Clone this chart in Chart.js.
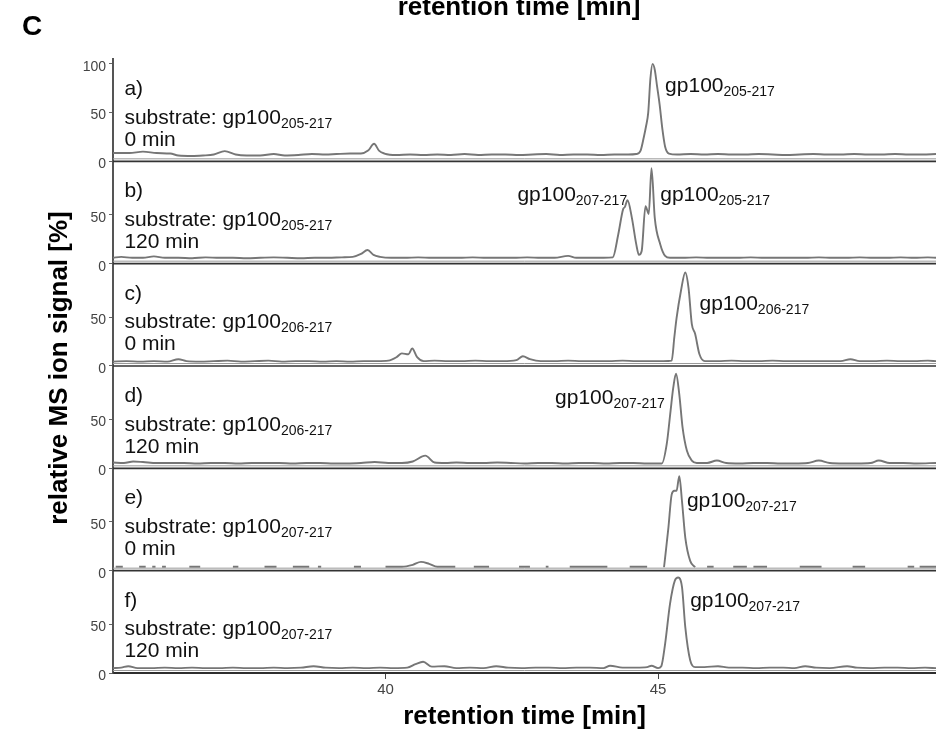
<!DOCTYPE html>
<html>
<head>
<meta charset="utf-8">
<script src="https://cdn.jsdelivr.net/npm/chart.js@4.4.1/dist/chart.umd.min.js"></script>
<style>
  html, body { margin: 0; padding: 0; background: #fff; }
</style>
</head>
<body>
<canvas id="msChart" width="936" height="732"></canvas>
<script>
const FONT = '"Liberation Sans", Arial, sans-serif';

// axes
const timeRange = [35, 50.1];
const xTicks = [40, 45];
const topPanelTicks = [0, 50, 100];
const panelTicks = [0, 50];

// panels a) .. f)
const panelIds = ['yA', 'yB', 'yC', 'yD', 'yE', 'yF'];
const panelLetters = ['a)', 'b)', 'c)', 'd)', 'e)', 'f)'];
const substrates = ['205-217', '205-217', '206-217', '206-217', '207-217', '207-217'];
const incubation = ['0 min', '120 min', '0 min', '120 min', '0 min', '120 min'];

// traces: [retention time, relative signal %]  (null = no signal recorded)
const traceA = [[35.0,8.5],[35.3,8.5],[35.55,10],[35.8,8.5],[36.05,8],[36.2,6],[36.45,5.5],[36.65,6],[36.85,7],[37.05,10.5],[37.25,7],[37.45,6],[37.7,6],[37.95,7.5],[38.15,6],[38.4,6.5],[38.65,7.5],[38.9,7],[39.1,7.5],[39.35,8],[39.55,8],[39.68,11],[39.79,18],[39.88,11],[39.98,8],[40.2,6.5],[40.45,7],[40.7,6.5],[40.95,7],[41.2,6.5],[41.45,7.5],[41.7,6.5],[41.95,7],[42.2,7],[42.45,6.5],[42.7,7],[42.95,7.5],[43.2,6.5],[43.45,7],[43.7,7],[43.95,6.5],[44.2,7],[44.45,7],[44.6,7.5],
  [44.68,11],[44.74,25],[44.78,36],[44.82,50],[44.86,85],[44.9,100],[44.94,94],[44.98,78],[45.03,58],[45.08,33],[45.13,15],[45.2,8],
  [45.35,7],[45.6,7.5],[45.85,7],[46.1,7.5],[46.35,7],[46.6,7],[46.85,7.5],[47.1,7],[47.35,6.5],[47.6,7],[47.85,7.5],[48.1,7],[48.35,7],[48.6,7.5],[48.85,7],[49.1,7],[49.35,7.5],[49.6,7],[49.85,7],[50.1,7.5]];

const traceB = [[35.0,6],[35.15,7],[35.35,6],[35.55,6],[35.75,7.5],[35.95,6],[36.2,6],[36.45,5.5],[36.7,6.5],[36.95,6],[37.2,6],[37.45,5.5],[37.7,6],[37.95,6.5],[38.2,6],[38.45,5.5],[38.7,6],[38.95,6],[39.2,6.5],[39.4,7],[39.55,10],[39.67,14],[39.78,9],[39.9,7],[40.1,6],[40.35,6],[40.6,6.5],[40.85,6],[41.1,6],[41.35,6],[41.6,6.5],[41.85,6],[42.1,6],[42.35,6],[42.6,6.5],[42.85,6],[43.1,6],[43.35,8],[43.5,6],[43.75,6],[44.0,6],[44.17,6.5],
  [44.27,30],[44.36,56],[44.39,58],[44.44,65],[44.52,47],[44.6,20],[44.65,9],[44.7,13],[44.77,59],[44.83,51],[44.88,98],[44.94,47],[45.04,20],[45.13,8],[45.22,6],
  [45.45,6],[45.7,6.5],[45.95,6],[46.2,6],[46.45,6],[46.7,6.5],[46.95,6],[47.2,6],[47.45,6],[47.7,6],[47.95,6.5],[48.2,6],[48.45,6],[48.7,6.5],[48.95,6],[49.2,6],[49.45,6.5],[49.7,6],[49.95,6.5],[50.1,6]];

const traceC = [[35.0,4.5],[35.25,5],[35.5,4.5],[35.75,5],[36.0,4.5],[36.2,7],[36.35,5],[36.6,4.5],[36.85,5],[37.1,5.5],[37.35,4.5],[37.6,5],[37.85,5.5],[38.1,4.5],[38.35,5],[38.6,5],[38.85,4.5],[39.1,5],[39.35,4.5],[39.6,5],[39.85,5],[40.05,5.5],[40.2,9],[40.3,13],[40.42,12],[40.49,18],[40.58,9],[40.7,5],[40.9,5.5],[41.15,5],[41.4,5],[41.65,5.5],[41.9,5],[42.15,5],[42.4,6],[42.52,10],[42.65,7],[42.85,5],[43.1,5],[43.35,5.5],[43.6,5],[43.85,5],[44.1,5],[44.35,5.5],[44.6,5],[44.85,5],[45.1,5],[45.25,5.5],
  [45.3,30],[45.34,49],[45.42,77],[45.5,96],[45.56,80],[45.62,43],[45.68,33],[45.76,12],[45.86,5],
  [46.1,5],[46.35,5.5],[46.6,5],[46.85,5],[47.1,5.5],[47.35,5],[47.6,5],[47.85,5],[48.1,5],[48.35,5],[48.53,7],[48.7,5],[48.95,5],[49.2,5.5],[49.45,5],[49.7,5],[49.95,5.5],[50.1,5]];

const traceD = [[35.0,6],[35.2,5.5],[35.37,7],[35.55,6.5],[35.8,5.5],[36.05,5.5],[36.3,5.5],[36.55,5],[36.8,5.5],[37.05,5.5],[37.3,5],[37.55,5.5],[37.8,5.5],[38.05,5.5],[38.3,5],[38.55,5.5],[38.8,5.5],[39.05,5],[39.3,5],[39.55,5.5],[39.8,6.5],[40.05,5.5],[40.3,5.5],[40.5,7],[40.73,13],[40.9,6],[41.1,5.5],[41.3,6],[41.55,5.5],[41.8,5.5],[42.05,6],[42.3,5.5],[42.55,5],[42.8,5.5],[43.05,5.5],[43.3,5],[43.55,5.5],[43.8,5.5],[44.05,5],[44.3,5.5],[44.55,5.5],[44.8,5],[45.07,5],
  [45.16,25],[45.23,59],[45.28,83],[45.33,97],[45.39,76],[45.45,42],[45.53,18],[45.62,8],[45.71,5.5],
  [45.9,5.5],[46.08,8],[46.25,5.5],[46.5,5],[46.75,5.5],[47.0,5.5],[47.25,5],[47.5,5],[47.75,5.5],[47.95,8],[48.15,5.5],[48.4,5],[48.65,5],[48.9,5.5],[49.05,8],[49.25,5.5],[49.5,5.5],[49.75,5],[50.1,5.5]];

const traceE = [[35.05,4],[35.18,4],[35.3,null],[35.48,4],[35.6,4],[35.65,null],[35.72,4],[35.78,4],[35.83,null],[35.9,4],[35.97,4],[36.0,null],[36.4,4],[36.6,4],[36.65,null],[37.2,4],[37.3,4],[37.35,null],[37.78,4],[38.0,4],[38.05,null],[38.3,4],[38.6,4],[38.65,null],[38.76,4],[38.82,4],[38.85,null],[39.42,4],[39.55,4],[39.6,null],
  [40.0,4],[40.3,4],[40.5,6],[40.65,9],[40.8,7],[40.95,4],[41.28,4],[41.3,null],[41.62,4],[41.9,4],[41.95,null],[42.45,4],[42.65,4],[42.7,null],[42.94,4],[42.99,4],[43.02,null],[43.38,4],[44.07,4],[44.1,null],[44.48,4],[44.8,4],[44.85,null],
  [45.11,3.5],[45.19,44],[45.25,78],[45.3,82],[45.34,82],[45.39,97],[45.44,71],[45.5,34],[45.59,10],[45.68,3.5],[45.72,null],
  [45.9,4],[46.02,4],[46.05,null],[46.38,4],[46.63,4],[46.68,null],[46.75,4],[47.0,4],[47.05,null],[47.6,4],[48.0,4],[48.05,null],[48.57,4],[48.8,4],[48.85,null],[49.58,4],[49.7,4],[49.75,null],[49.8,4],[50.1,4]];

const traceF = [[35.0,5],[35.15,5.5],[35.28,7],[35.45,5],[35.7,5],[35.95,5.5],[36.2,5],[36.45,5.5],[36.7,5],[36.95,5],[37.2,5.5],[37.45,5],[37.7,5],[37.95,5.5],[38.2,5],[38.45,5.5],[38.68,7],[38.9,5.5],[39.15,5],[39.4,5.5],[39.65,5],[39.9,5.5],[40.15,5],[40.4,5.5],[40.55,9],[40.69,11.5],[40.85,6.5],[41.08,7],[41.3,5],[41.55,5.5],[41.8,5],[42.03,7],[42.25,5.5],[42.5,5],[42.75,5.5],[43.0,5.5],[43.25,5],[43.5,5.5],[43.75,5.5],[44.0,5],[44.12,7.5],[44.35,5.5],[44.6,5.5],[44.8,6],[44.88,7.5],[45.0,5],
  [45.06,7],[45.13,30],[45.22,71],[45.31,95],[45.37,98],[45.44,88],[45.5,47],[45.59,13],[45.68,6],
  [45.85,6],[46.1,7],[46.3,5.5],[46.55,5.5],[46.8,5],[47.05,5.5],[47.3,5.5],[47.5,5],[47.7,7],[47.9,5.5],[48.15,5],[48.47,7],[48.65,5.5],[48.9,5],[49.15,5.5],[49.4,5.5],[49.65,5],[49.9,5.5],[50.1,5]];

const traces = [traceA, traceB, traceC, traceD, traceE, traceF];

// peak annotations: panel index, time, signal level of label baseline, subscript
const peakLabels = [
  { panel: 0, t: 45.13, v: 71, sub: '205-217' },
  { panel: 1, t: 42.42, v: 64, sub: '207-217' },
  { panel: 1, t: 45.04, v: 64, sub: '205-217' },
  { panel: 2, t: 45.76, v: 57, sub: '206-217' },
  { panel: 3, t: 43.11, v: 66, sub: '207-217' },
  { panel: 4, t: 45.53, v: 65, sub: '207-217' },
  { panel: 5, t: 45.59, v: 68, sub: '207-217' }
];

function drawWithSub(ctx, x, y, main, sub) {
  ctx.font = '21px ' + FONT;
  ctx.fillText(main, x, y);
  const w = ctx.measureText(main).width;
  ctx.font = '14px ' + FONT;
  ctx.fillText(sub, x + w, y + 4);
}

const panelDecor = {
  id: 'panelDecor',
  afterDatasetsDraw(chart) {
    const ctx = chart.ctx;
    const area = chart.chartArea;
    const xs = chart.scales.x;
    ctx.save();
    // double separator lines under every panel
    panelIds.forEach(id => {
      const y0 = chart.scales[id].getPixelForValue(0);
      ctx.beginPath();
      ctx.strokeStyle = '#9a9a9a';
      ctx.lineWidth = 1;
      ctx.moveTo(area.left, y0 - 2.5);
      ctx.lineTo(area.right, y0 - 2.5);
      ctx.stroke();
      ctx.beginPath();
      ctx.strokeStyle = '#333';
      ctx.lineWidth = 1.6;
      ctx.moveTo(area.left, y0);
      ctx.lineTo(area.right, y0);
      ctx.stroke();
    });

    // panel captions
    ctx.fillStyle = '#111';
    ctx.textAlign = 'left';
    ctx.textBaseline = 'alphabetic';
    panelIds.forEach((id, i) => {
      const ys = chart.scales[id];
      const x = xs.getPixelForValue(35.21);
      ctx.font = '21px ' + FONT;
      ctx.fillText(panelLetters[i], x, ys.getPixelForValue(68));
      drawWithSub(ctx, x, ys.getPixelForValue(38.5), 'substrate: gp100', substrates[i]);
      ctx.font = '21px ' + FONT;
      ctx.fillText(incubation[i], x, ys.getPixelForValue(16));
    });

    // peak names
    peakLabels.forEach(p => {
      const ys = chart.scales[panelIds[p.panel]];
      drawWithSub(ctx, xs.getPixelForValue(p.t), ys.getPixelForValue(p.v), 'gp100', p.sub);
    });
    ctx.restore();
  },
  afterDraw(chart) {
    const ctx = chart.ctx;
    ctx.save();
    ctx.fillStyle = '#000';
    ctx.textAlign = 'center';
    ctx.textBaseline = 'middle';
    ctx.font = 'bold 26px ' + FONT;
    ctx.fillText('retention time [min]', 519, 8);
    ctx.font = 'bold 28px ' + FONT;
    ctx.textBaseline = 'alphabetic';
    ctx.fillText('C', 32, 35);
    ctx.translate(60, 368);
    ctx.rotate(-Math.PI / 2);
    ctx.textBaseline = 'middle';
    ctx.font = 'bold 26px ' + FONT;
    ctx.fillText('relative MS ion signal [%]', 0, 0);
    ctx.restore();
  }
};

const scales = {
  x: {
    type: 'linear',
    position: 'bottom',
    min: timeRange[0],
    max: timeRange[1],
    afterBuildTicks: s => { s.ticks = xTicks.map(v => ({ value: v })); },
    afterFit: s => { s.height = 59; },
    ticks: { color: '#444', font: { size: 15, family: FONT }, padding: 2 },
    grid: { drawOnChartArea: false, tickLength: 6, color: '#444' },
    border: { color: '#222', width: 2 },
    title: {
      display: true,
      text: 'retention time [min]',
      color: '#000',
      font: { size: 26, weight: 'bold', family: FONT },
      padding: 0
    }
  }
};

// stacked y axes, one per panel (last defined is placed on top)
panelIds.slice().reverse().forEach(id => {
  const tickValues = id === panelIds[0] ? topPanelTicks : panelTicks;
  scales[id] = {
    type: 'linear',
    position: 'left',
    stack: 'panels',
    stackWeight: 1,
    min: 0,
    max: 105,
    afterBuildTicks: s => { s.ticks = tickValues.map(v => ({ value: v })); },
    afterFit: s => { s.width = 30; },
    ticks: { color: '#444', font: { size: 14, family: FONT }, padding: 3, labelOffset: 3 },
    grid: { drawOnChartArea: false, tickLength: 4, color: '#666' },
    border: { color: '#555', width: 2 }
  };
});

new Chart(document.getElementById('msChart'), {
  type: 'line',
  data: {
    datasets: traces.map((tr, i) => ({
      label: panelLetters[i],
      data: tr.map(p => ({ x: p[0], y: p[1] })),
      yAxisID: panelIds[i],
      borderColor: '#767676',
      borderWidth: 1.9,
      pointRadius: 0,
      cubicInterpolationMode: 'monotone',
      spanGaps: false,
      fill: false
    }))
  },
  options: {
    responsive: false,
    animation: false,
    layout: { padding: { left: 83, right: 0, top: 59, bottom: 0 } },
    plugins: { legend: { display: false }, tooltip: { enabled: false } },
    scales: scales
  },
  plugins: [panelDecor]
});
</script>
</body>
</html>
